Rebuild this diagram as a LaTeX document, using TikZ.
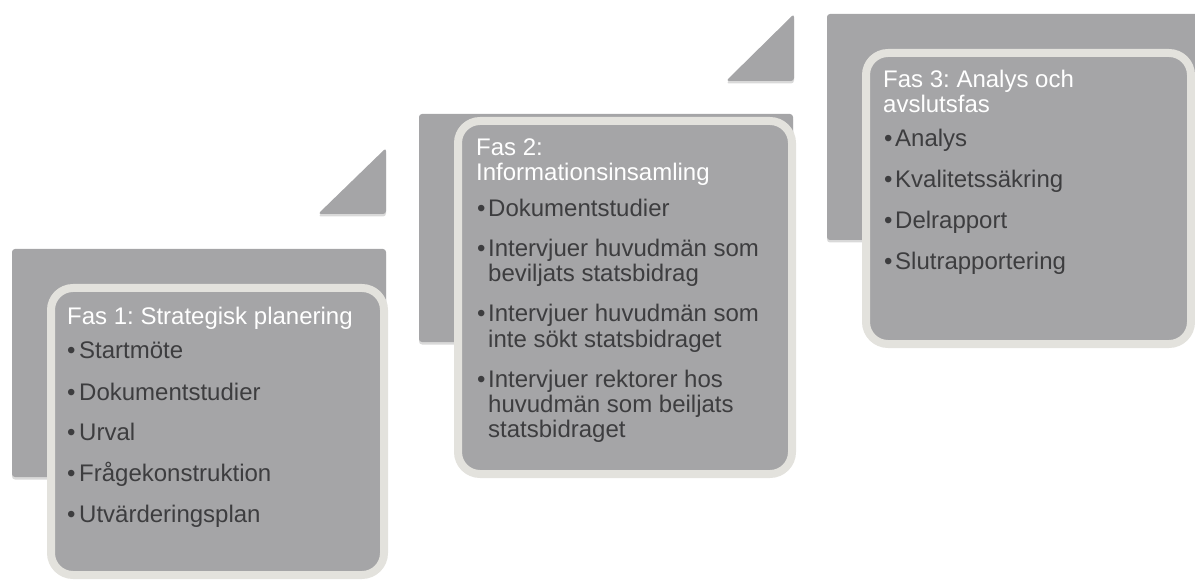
\documentclass[tikz,border=0pt]{standalone}
\usepackage{fontspec}
\setmainfont{Liberation Sans}
\frenchspacing
\usetikzlibrary{shadows}
\definecolor{boxgray}{HTML}{A5A5A7}
\definecolor{rimcol}{HTML}{E3E2DD}
\definecolor{itemcol}{HTML}{3D3D3F}
\tikzset{
  shad/.style={drop shadow={shadow xshift=0pt, shadow yshift=-2.5pt, opacity=0.15, fill=black}},
  backrect/.style={fill=boxgray, rounded corners=3pt, shad},
  tri/.style={fill=boxgray, rounded corners=3pt, shad},
  phasebox/.style={fill=boxgray, draw=rimcol, line width=8pt, rounded corners=22pt, shad},
  ttl/.style={inner sep=0pt, anchor=base west, text=white, font=\fontsize{24}{25}\selectfont},
  itm/.style={inner sep=0pt, anchor=base west, text=itemcol, font=\fontsize{24}{25}\selectfont},
  bul/.style={inner sep=0pt, anchor=base west, text=itemcol, font=\fontsize{24}{25}\selectfont}
}
\begin{document}
\begin{tikzpicture}[x=1pt,y=-1pt]
\useasboundingbox (0,0) rectangle (1195,580);
% triangles
\path[tri] (318,214) -- (386,148) -- (386,214) -- cycle;
\path[tri] (726,81) -- (794,14) -- (794,81) -- cycle;
% background rectangles
\path[backrect] (12,249) rectangle (386,477);
\path[backrect] (419,114) rectangle (793,342);
\path[backrect] (827,14) rectangle (1200,240);
% phase boxes
\path[phasebox] (51,288) rectangle (384,575);
\path[phasebox] (458,121) rectangle (792,474);
\path[phasebox] (866,53) rectangle (1191,344);
% phase 1 text
\node[ttl] (t1) at (67,325) {Fas 1: Strategisk planering};
\node[bul] (b1a) at (67,359) {•};
\node[itm] (i1a) at (79,359) {Startmöte};
\node[bul] (b1b) at (67,400) {•};
\node[itm] (i1b) at (79,400) {Dokumentstudier};
\node[bul] (b1c) at (67,440.5) {•};
\node[itm] (i1c) at (79,440.5) {Urval};
\node[bul] (b1d) at (67,481) {•};
\node[itm] (i1d) at (79,481) {Frågekonstruktion};
\node[bul] (b1e) at (67,522) {•};
\node[itm] (i1e) at (79,522) {Utvärderingsplan};
% phase 2 text
\node[ttl] (t2a) at (476,156) {Fas 2:};
\node[ttl] (t2b) at (476,181) {Informationsinsamling};
\node[bul] (b2a) at (477,217) {•};
\node[itm] (i2a) at (488,217) {Dokumentstudier};
\node[bul] (b2b) at (477,257) {•};
\node[itm] (i2b1) at (488,257) {Intervjuer huvudmän som};
\node[itm] (i2b2) at (488,282) {beviljats statsbidrag};
\node[bul] (b2c) at (477,322) {•};
\node[itm] (i2c1) at (488,322) {Intervjuer huvudmän som};
\node[itm] (i2c2) at (488,347) {inte sökt statsbidraget};
\node[bul] (b2d) at (477,387) {•};
\node[itm] (i2d1) at (488,387) {Intervjuer rektorer hos};
\node[itm] (i2d2) at (488,412) {huvudmän som beiljats};
\node[itm] (i2d3) at (488,437) {statsbidraget};
% phase 3 text
\node[ttl] (t3a) at (883,88) {Fas 3: Analys och};
\node[ttl] (t3b) at (883,113) {avslutsfas};
\node[bul] (b3a) at (884,147) {•};
\node[itm] (i3a) at (895,147) {Analys};
\node[bul] (b3b) at (884,188) {•};
\node[itm] (i3b) at (895,188) {Kvalitetssäkring};
\node[bul] (b3c) at (884,229) {•};
\node[itm] (i3c) at (895,229) {Delrapport};
\node[bul] (b3d) at (884,270) {•};
\node[itm] (i3d) at (895,270) {Slutrapportering};
\end{tikzpicture}
\end{document}
